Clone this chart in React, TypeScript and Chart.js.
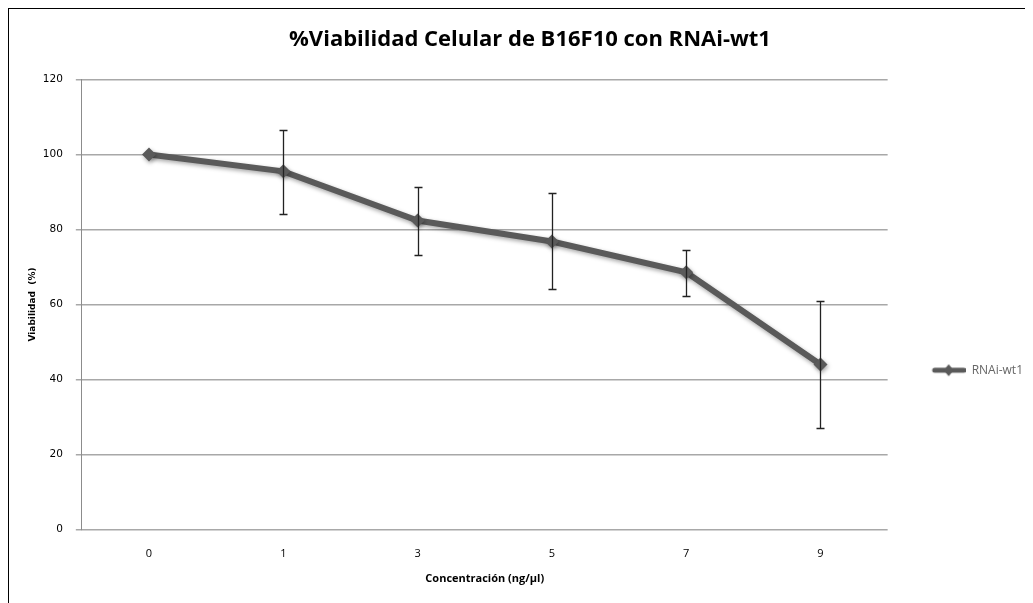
import React, { useEffect, useRef } from "react";
import { Chart, registerables } from "chart.js";

Chart.register(...registerables);

const categories = ["0", "1", "3", "5", "7", "9"];
const viability = [100, 95.5, 82.4, 76.8, 68.6, 44.0];
const errorHigh = [null, 106.6, 91.3, 89.7, 74.4, 60.9];
const errorLow = [null, 84.2, 73.1, 64.1, 62.3, 27.0];
const seriesName = "RNAi-wt1";
const chartTitle = "%Viabilidad Celular de B16F10 con RNAi-wt1";
const xTitle = "Concentración (ng/µl)";
const yTitle = "Viabilidad  (%)";

const LINE = "#5a5a5a";
const SANS = "'Open Sans', sans-serif";
const VERD = "'DejaVu Sans', sans-serif";

function makeLegendSwatch(): HTMLCanvasElement {
  const c = document.createElement("canvas");
  c.width = 68;
  c.height = 14;
  const ctx = c.getContext("2d")!;
  ctx.strokeStyle = LINE;
  ctx.lineWidth = 5;
  ctx.lineCap = "round";
  ctx.beginPath();
  ctx.moveTo(37, 7);
  ctx.lineTo(66, 7);
  ctx.stroke();
  ctx.fillStyle = LINE;
  ctx.beginPath();
  ctx.moveTo(51, 1);
  ctx.lineTo(56, 7);
  ctx.lineTo(51, 13);
  ctx.lineTo(46, 7);
  ctx.closePath();
  ctx.fill();
  return c;
}

const shadowPlugin = {
  id: "shadowPlugin",
  beforeDatasetsDraw(chart: any) {
    const ctx = chart.ctx;
    ctx.save();
    ctx.shadowColor = "rgba(0,0,0,0.35)";
    ctx.shadowBlur = 4;
    ctx.shadowOffsetX = 1;
    ctx.shadowOffsetY = 2;
  },
  afterDatasetsDraw(chart: any) {
    chart.ctx.restore();
  },
};

const errorBarPlugin = {
  id: "errorBarPlugin",
  afterDatasetsDraw(chart: any) {
    const ctx = chart.ctx;
    const xs = chart.scales.x;
    const ys = chart.scales.y;
    ctx.save();
    ctx.strokeStyle = "#222";
    ctx.lineWidth = 1.3;
    for (let i = 0; i < categories.length; i++) {
      const hi = errorHigh[i];
      const lo = errorLow[i];
      if (hi == null || lo == null) continue;
      const x = Math.round(xs.getPixelForValue(i)) + 0.5;
      const yh = Math.round(ys.getPixelForValue(hi)) + 0.5;
      const yl = Math.round(ys.getPixelForValue(lo)) + 0.5;
      ctx.beginPath();
      ctx.moveTo(x, yh);
      ctx.lineTo(x, yl);
      ctx.moveTo(x - 4, yh);
      ctx.lineTo(x + 4, yh);
      ctx.moveTo(x - 4, yl);
      ctx.lineTo(x + 4, yl);
      ctx.stroke();
    }
    ctx.restore();
  },
};

export default function App() {
  const ref = useRef<HTMLCanvasElement | null>(null);

  useEffect(() => {
    if (!ref.current) return;
    const swatch = makeLegendSwatch();
    const chart = new Chart(ref.current, {
      type: "line",
      data: {
        labels: categories,
        datasets: [
          {
            label: seriesName,
            data: viability,
            borderColor: LINE,
            backgroundColor: LINE,
            borderWidth: 6,
            pointStyle: "rectRot",
            pointRadius: 7,
            pointBackgroundColor: LINE,
            pointBorderColor: LINE,
            pointBorderWidth: 0,
            tension: 0,
          },
        ],
      },
      options: {
        animation: false,
        responsive: false,
        maintainAspectRatio: false,
        layout: { padding: { left: 18, right: 0, top: 0, bottom: 18 } },
        plugins: {
          tooltip: { enabled: false },
          title: {
            display: true,
            text: chartTitle,
            color: "#000",
            font: { family: SANS, size: 22, weight: "bold" },
            padding: { top: 18, bottom: 26 },
          },
          legend: {
            position: "right",
            align: "center",
            title: { display: true, text: " ", padding: { top: 0, bottom: 132 } },
            labels: {
              usePointStyle: true,
              pointStyleWidth: 68,
              color: "#000",
              font: { family: SANS, size: 12 },
              padding: 10,
              generateLabels: () => [
                {
                  text: seriesName,
                  pointStyle: swatch as any,
                  fillStyle: LINE,
                  strokeStyle: LINE,
                  lineWidth: 0,
                  hidden: false,
                  datasetIndex: 0,
                },
              ],
            },
          },
        },
        scales: {
          x: {
            offset: true,
            grid: { display: false },
            border: { display: false },
            ticks: { color: "#000", font: { family: SANS, size: 11 }, padding: 10 },
            title: {
              display: true,
              text: xTitle,
              color: "#000",
              font: { family: SANS, size: 11, weight: "bold" },
              padding: { top: 1, bottom: 0 },
            },
          },
          y: {
            min: 0,
            max: 120,
            ticks: { stepSize: 20, color: "#000", font: { family: VERD, size: 10.5 }, padding: 13 },
            grid: { color: "#a8a8a8", lineWidth: 1.5, tickLength: 6, tickColor: "#a8a8a8" },
            border: { display: true, color: "#8c8c8c", width: 1 },
            title: {
              display: true,
              text: yTitle,
              color: "#000",
              font: { family: VERD, size: 9, weight: "bold" },
              padding: { top: 0, bottom: -8 },
            },
          },
        },
      },
      plugins: [shadowPlugin, errorBarPlugin],
    });
    return () => chart.destroy();
  }, []);

  return (
    <div
      style={{
        marginLeft: -1,
        marginTop: -1,
        width: 1026,
        height: 596,
        borderTop: "2px solid #000",
        borderLeft: "2px solid #000",
        background: "#fff",
        overflow: "hidden",
      }}
    >
      <canvas ref={ref} width={1024} height={594} style={{ display: "block" }} />
    </div>
  );
}
